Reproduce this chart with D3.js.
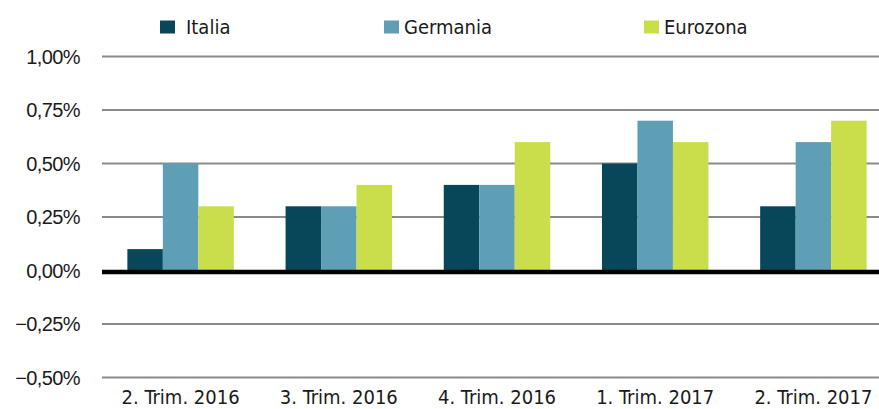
<!DOCTYPE html>
<html>
<head>
<meta charset="utf-8">
<script src="https://cdn.jsdelivr.net/npm/d3@7"></script>
<style>
  body { margin: 0; background: #fff; }
  svg { display: block; }
</style>
</head>
<body>
<div id="chart"></div>
<script>
const categories = ["2. Trim. 2016", "3. Trim. 2016", "4. Trim. 2016", "1. Trim. 2017", "2. Trim. 2017"];
const seriesNames = ["Italia", "Germania", "Eurozona"];
const italia = [0.1, 0.3, 0.4, 0.5, 0.3];
const germania = [0.5, 0.3, 0.4, 0.7, 0.6];
const eurozona = [0.3, 0.4, 0.6, 0.6, 0.7];
const yTicks = [-0.5, -0.25, 0, 0.25, 0.5, 0.75, 1.0];

const colors = ["#08475a", "#5e9fb6", "#cade4b"];
const width = 879, height = 409;

const svg = d3.select("#chart").append("svg")
    .attr("width", width)
    .attr("height", height);

// band range runs past the right edge, as in the original
const x = d3.scaleBand().domain(categories).range([101.5, 892.5]).paddingInner(0.327).paddingOuter(0.1635);
const xs = d3.scaleBand().domain(seriesNames).range([0, x.bandwidth()]);
const y = d3.scaleLinear().domain([-0.5, 1.0]).range([377.5, 56.5]);

// grid
svg.append("g").selectAll("line")
    .data(yTicks.filter(d => d !== 0))
    .join("line")
    .attr("x1", 102).attr("x2", width)
    .attr("y1", d => y(d)).attr("y2", d => y(d))
    .attr("stroke", "#8a8a8a")
    .attr("stroke-width", 1.8);

// y labels
const fmt = d => d3.format(".2f")(d).replace(".", ",").replace("-", "\u2013") + "%";
svg.append("g").selectAll("text")
    .data(yTicks)
    .join("text")
    .attr("x", 80)
    .attr("y", d => y(d))
    .attr("dy", "0.36em")
    .attr("text-anchor", "end")
    .attr("font-family", "Liberation Sans, Arial, sans-serif")
    .attr("font-size", 20)
    .attr("letter-spacing", -0.6)
    .attr("fill", "#1a1a1a")
    .text(fmt);

// bars
const rows = categories.map((c, i) => ({ cat: c, vals: [italia[i], germania[i], eurozona[i]] }));
const groups = svg.append("g").selectAll("g")
    .data(rows)
    .join("g")
    .attr("transform", d => `translate(${x(d.cat)},0)`);

groups.selectAll("rect")
    .data(d => d.vals.map((v, k) => ({ name: seriesNames[k], v, k })))
    .join("rect")
    .attr("x", d => xs(d.name))
    .attr("width", xs.bandwidth())
    .attr("y", d => y(Math.max(0, d.v)))
    .attr("height", d => Math.abs(y(d.v) - y(0)))
    .attr("fill", d => colors[d.k]);

// zero line
svg.append("line")
    .attr("x1", 102).attr("x2", width)
    .attr("y1", y(0) + 1.5).attr("y2", y(0) + 1.5)
    .attr("stroke", "#000")
    .attr("stroke-width", 4.5);

// x labels
svg.append("g").selectAll("text")
    .data(categories)
    .join("text")
    .attr("x", d => x(d) + x.bandwidth() / 2)
    .attr("y", 404)
    .attr("text-anchor", "middle")
    .attr("font-family", "DejaVu Sans Condensed, DejaVu Sans, sans-serif")
    .attr("font-size", 20)
    .attr("fill", "#1a1a1a")
    .text(d => d);

// legend
const legendX = [160, 384, 644];
const leg = svg.append("g").selectAll("g")
    .data(seriesNames)
    .join("g")
    .attr("transform", (d, i) => `translate(${legendX[i]},0)`);
leg.append("rect")
    .attr("x", 0).attr("y", 20.5)
    .attr("width", 15).attr("height", 13)
    .attr("fill", (d, i) => colors[i]);
leg.append("text")
    .attr("x", (d, i) => i === 0 ? 26 : 20)
    .attr("y", 34)
    .attr("font-family", "DejaVu Sans Condensed, DejaVu Sans, sans-serif")
    .attr("font-size", 20)
    .attr("fill", "#1a1a1a")
    .text(d => d);
</script>
</body>
</html>
